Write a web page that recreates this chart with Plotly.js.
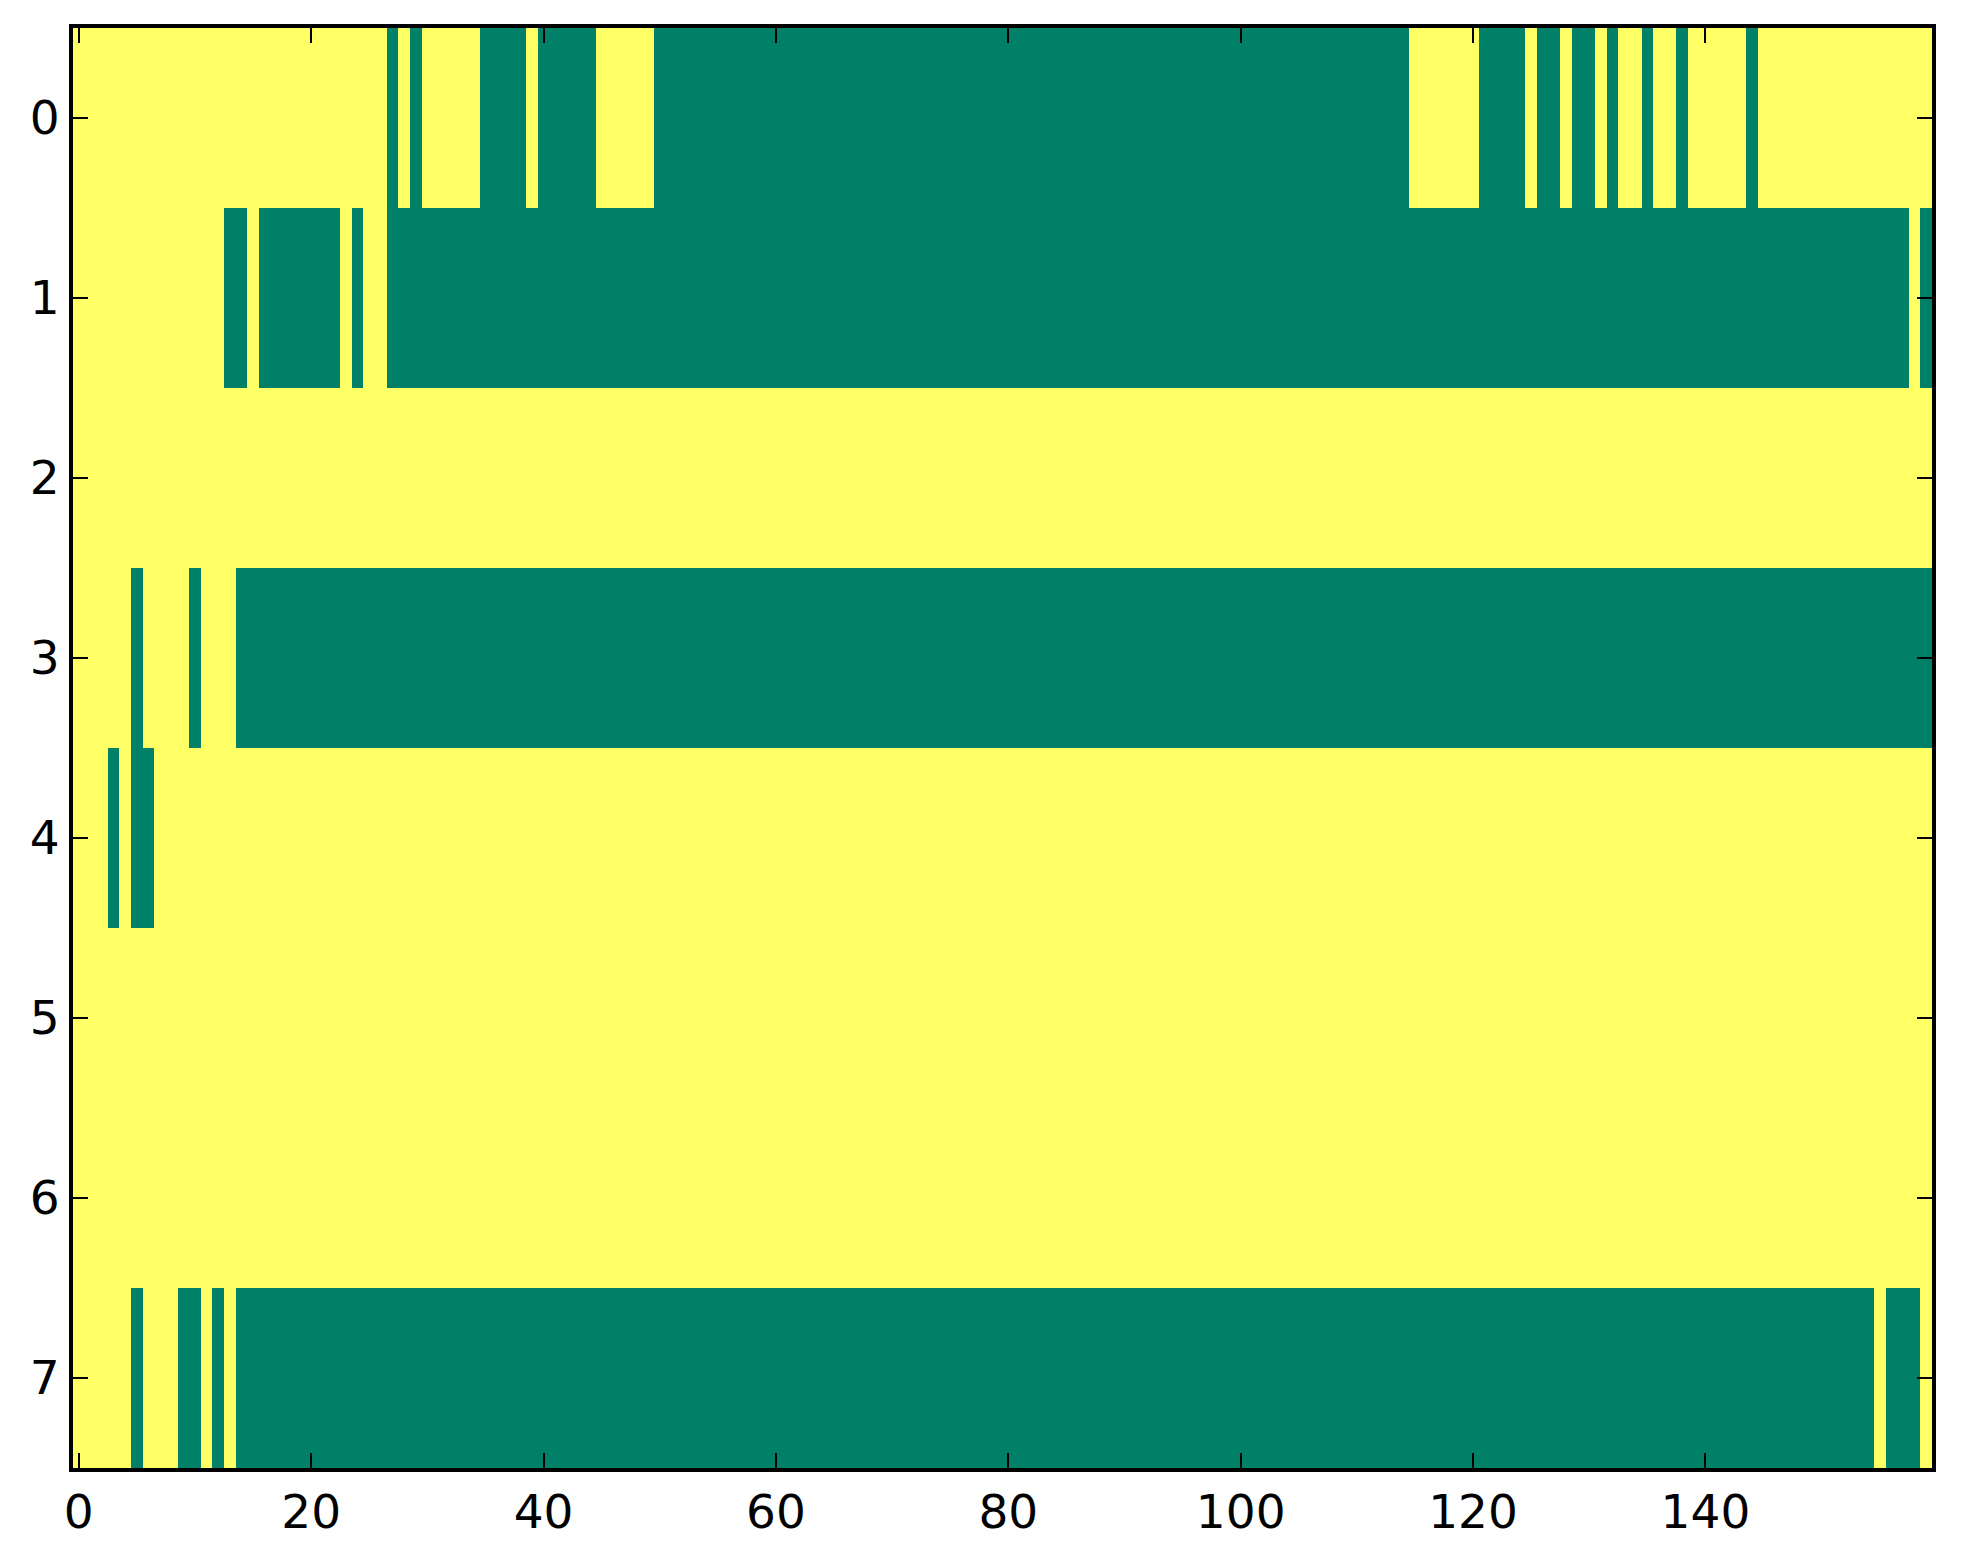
<!DOCTYPE html>
<html>
<head>
<meta charset="utf-8">
<script src="https://cdn.plot.ly/plotly-3.0.1.min.js"></script>
<style>
  html, body { margin: 0; padding: 0; background: #fff; }
  #plot { width: 1963px; height: 1564px; }
</style>
</head>
<body>
<div id="plot"></div>
<script>
// grid size (columns x rows)
const nCols = 160;
const rowLabels = [0, 1, 2, 3, 4, 5, 6, 7];
const xTicks = [0, 20, 40, 60, 80, 100, 120, 140];

// green cells per row, as inclusive [from, to] column ranges (everything else is yellow)
const row0Green = [[27, 27], [29, 29], [35, 38], [40, 44], [50, 114], [121, 124], [126, 127],
                   [129, 130], [132, 132], [135, 135], [138, 138], [144, 144]];
const row1Green = [[13, 14], [16, 22], [24, 24], [27, 157], [159, 159]];
const row2Green = [];
const row3Green = [[5, 5], [10, 10], [14, 159]];
const row4Green = [[3, 3], [5, 6]];
const row5Green = [];
const row6Green = [];
const row7Green = [[5, 5], [9, 10], [12, 12], [14, 154], [156, 158]];

const rowsGreen = [row0Green, row1Green, row2Green, row3Green, row4Green, row5Green, row6Green, row7Green];

// decode ranges into the z matrix plotly wants
const z = rowsGreen.map(ranges => {
    let row = new Array(nCols).fill(0);
    ranges.forEach(r => {
        for (let c = r[0]; c <= r[1]; c++) row[c] = 1;
    });
    return row;
});

const trace = {
    type: 'heatmap',
    z: z,
    y: rowLabels,
    colorscale: [[0, '#ffff66'], [1, '#008066']],
    zmin: 0,
    zmax: 1,
    showscale: false,
    hoverinfo: 'skip'
};

const axisFont = { family: 'DejaVu Sans', size: 47, color: '#000' };

const layout = {
    width: 1963,
    height: 1564,
    margin: { l: 73, r: 31, t: 28, b: 96 },
    paper_bgcolor: '#fff',
    plot_bgcolor: '#fff',
    showlegend: false,
    xaxis: {
        range: [-0.5, nCols - 0.5],
        tickvals: xTicks,
        ticktext: xTicks.map(String),
        ticks: 'inside',
        ticklen: 15,
        tickwidth: 2,
        tickcolor: '#000',
        showline: true,
        linecolor: '#000',
        linewidth: 4,
        mirror: 'ticks',
        showgrid: false,
        zeroline: false,
        tickfont: axisFont
    },
    yaxis: {
        range: [7.5, -0.5],
        tickvals: rowLabels,
        ticktext: rowLabels.map(String),
        ticks: 'inside',
        ticklen: 15,
        tickwidth: 2,
        tickcolor: '#000',
        showline: true,
        linecolor: '#000',
        linewidth: 4,
        mirror: 'ticks',
        showgrid: false,
        zeroline: false,
        tickfont: axisFont
    }
};

Plotly.newPlot('plot', [trace], layout, { displayModeBar: false, staticPlot: true });
</script>
</body>
</html>
